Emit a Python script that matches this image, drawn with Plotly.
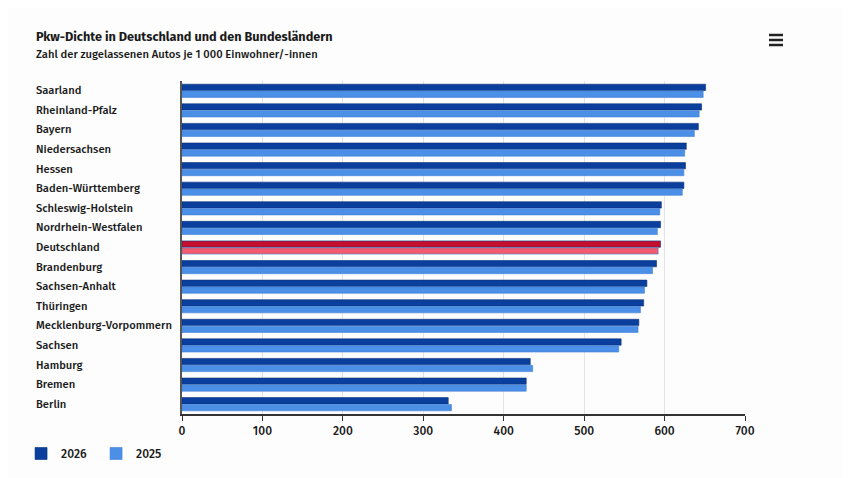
import plotly.graph_objects as go

# --- data ---------------------------------------------------------------------
laender = [
    "Saarland", "Rheinland-Pfalz", "Bayern", "Niedersachsen", "Hessen",
    "Baden-Württemberg", "Schleswig-Holstein", "Nordrhein-Westfalen",
    "Deutschland", "Brandenburg", "Sachsen-Anhalt", "Thüringen",
    "Mecklenburg-Vorpommern", "Sachsen", "Hamburg", "Bremen", "Berlin",
]
pkw_2026 = [651, 646, 642, 627, 626, 624, 596, 595, 595, 590, 578, 574, 568, 546, 433, 428, 331]
pkw_2025 = [648, 643, 637, 625, 624, 622, 594, 591, 592, 585, 575, 570, 567, 543, 436, 428, 335]
x_ticks = [0, 100, 200, 300, 400, 500, 600, 700]

# --- theme --------------------------------------------------------------------
_INK = "#1a1a1a"
_DARK = "#0b3f9e"
_LIGHT = "#4c8fe6"
_RED_DARK = "#c40f2e"
_RED_LIGHT = "#f25a6e"
_GRID = "#e4e4e4"
_BG = "#fdfdfd"
_FONT = "Fira Sans, Noto Sans, Open Sans, sans-serif"

# page body keeps an 8px margin, so the figure is drawn 8px smaller
W, H = 842, 470
L, R, T, B = 174, 105, 73, 64
PW, PH = W - L - R, H - T - B


def colors(base, highlight):
    return [highlight if name == "Deutschland" else base for name in laender]


fig = go.Figure()
fig.add_trace(go.Bar(
    y=laender, x=pkw_2026, name="2026", orientation="h",
    marker=dict(color=colors(_DARK, _RED_DARK), line=dict(color="#07307a", width=0.6)),
))
fig.add_trace(go.Bar(
    y=laender, x=pkw_2025, name="2025", orientation="h",
    marker=dict(color=colors(_LIGHT, _RED_LIGHT), line=dict(color="#3f7fd6", width=0.6)),
))

fig.update_layout(
    width=W, height=H,
    paper_bgcolor=_BG, plot_bgcolor=_BG,
    font=dict(family=_FONT, color=_INK, size=12),
    margin=dict(l=L, r=R, t=T, b=B, autoexpand=False),
    barmode="group", bargap=0.3, bargroupgap=0.08,
    showlegend=True,
    legend=dict(
        orientation="h", xref="container", yref="container",
        x=0.0155, y=0.083, xanchor="left", yanchor="top",
        font=dict(size=12, color=_INK, weight=500), itemwidth=30,
        entrywidth=30, traceorder="normal",
    ),
    xaxis=dict(
        range=[0, 700], tickvals=x_ticks, showgrid=True, gridcolor=_GRID,
        zeroline=False, showline=True, linecolor="#333333", linewidth=1.5,
        ticks="outside", ticklen=5, tickcolor="#333333",
        tickfont=dict(size=12, color=_INK, weight=500),
    ),
    yaxis=dict(
        autorange="reversed", showticklabels=False, showgrid=False,
        showline=True, linecolor="#555555", linewidth=1.5, ticks="",
    ),
)

# left-aligned category labels
for name in laender:
    fig.add_annotation(
        text=name, x=(26 - L) / PW, y=name, xref="paper", yref="y",
        xanchor="left", yanchor="middle", showarrow=False,
        font=dict(size=11.2, color=_INK, weight=500),
    )

# title + subtitle
fig.add_annotation(
    text="<b>Pkw-Dichte in Deutschland und den Bundesländern</b>",
    x=(26 - L) / PW, y=(T + PH - 28) / PH, xref="paper", yref="paper",
    xanchor="left", yanchor="middle",
    showarrow=False, font=dict(size=12.7, color=_INK),
)
fig.add_annotation(
    text="Zahl der zugelassenen Autos je 1 000 Einwohner/-innen",
    x=(26 - L) / PW, y=(T + PH - 47) / PH, xref="paper", yref="paper",
    xanchor="left", yanchor="middle",
    showarrow=False, font=dict(size=11.2, color=_INK, weight=500),
)

# hamburger menu icon
for py in (27, 32, 37):
    yp = (T + PH - py) / PH
    fig.add_shape(
        type="line", xref="paper", yref="paper",
        x0=(761 - L) / PW, x1=(775 - L) / PW, y0=yp, y1=yp,
        line=dict(color="#222222", width=2.5),
    )

fig.write_html("out.html")
